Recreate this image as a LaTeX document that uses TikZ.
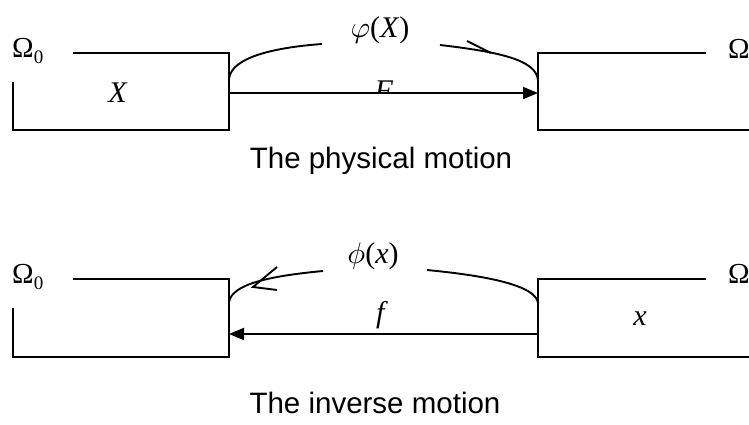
\documentclass[tikz,border=0pt]{standalone}
\usepackage{fontspec}
\setmainfont{Liberation Serif}
\newfontfamily\capfont{Liberation Sans}
\usetikzlibrary{arrows.meta}
\tikzset{
  ln/.style={line width=1.9pt},
  big/.style={font=\fontsize{30}{34}\selectfont, inner sep=0pt, anchor=base},
  captext/.style={font=\capfont\fontsize{29.5}{34}\selectfont, inner sep=0pt, anchor=base},
  tip/.style={-{Triangle[length=15pt,width=12pt]}},
  omega/.style={font=\fontsize{29}{32}\selectfont, inner sep=0pt, anchor=base west}
}
\newcommand\subzero{\raisebox{-6pt}{\fontsize{19}{19}\selectfont 0}}
\newcommand\bigmath[1]{\scalebox{3.0}{\fontsize{10}{12}\selectfont$#1$}}
\begin{document}
\begin{tikzpicture}[x=1pt,y=-1pt]
\useasboundingbox (0,0) rectangle (749,424);

% ---------- top: physical motion ----------
\node[omega] (O1) at (12,57) {Ω\subzero};
\node[omega] (O1r) at (728,58) {Ω};
\draw[ln] (73,53) -- (229,53) -- (229,130) -- (13,130) -- (13,82);
\draw[ln] (706,53) -- (538,53) -- (538,130) -- (749,130);
\coordinate (A1) at (229,93);
\coordinate (B1) at (538,93);
\draw[ln,tip] (A1) -- (B1);
\node[big] (X) at (118,102) {\textit{X}};
\begin{scope}
  \clip (360,60) rectangle (410,92);
  \node[big] (F) at (384,100) {\textit{F}};
\end{scope}
\node[big] (phiX) at (380,37) {\bigmath{\varphi}(\textit{X})};
\coordinate (a1s) at (229,79);
\coordinate (a1e) at (322,44);
\coordinate (a2s) at (440,45);
\coordinate (a2e) at (538,80);
\draw[ln] (a1s) .. controls (231,56) and (280,47) .. (a1e);
\draw[ln] (a2s) .. controls (500,52) and (536,60) .. (a2e);
\coordinate (h1) at (467,41);
\coordinate (h2) at (491,53);
\draw[ln] (h1) -- (h2);
\node[captext] (cap1) at (381,168) {The physical motion};

% ---------- bottom: inverse motion ----------
\node[omega] (O2) at (12,283) {Ω\subzero};
\node[omega] (O2r) at (728,283) {Ω};
\draw[ln] (73,279) -- (229,279) -- (229,357) -- (13,357) -- (13,308);
\draw[ln] (706,279) -- (538,279) -- (538,357) -- (749,357);
\coordinate (A2) at (538,334);
\coordinate (B2) at (229,334);
\draw[ln,tip] (A2) -- (B2);
\node[big] (xs) at (640,325) {\textit{x}};
\node[big] (f) at (382,322) {\textit{f}};
\node[big] (phix) at (373,263) {\bigmath{\phi}(\textit{x})};
\coordinate (b1s) at (229,302);
\coordinate (b1e) at (323,271);
\coordinate (b2s) at (427,270);
\coordinate (b2e) at (538,303);
\draw[ln] (b1s) .. controls (232,284) and (270,276) .. (b1e);
\draw[ln] (b2s) .. controls (490,276) and (536,286) .. (b2e);
\coordinate (v1) at (277,267);
\coordinate (v0) at (253,287);
\coordinate (v2) at (277,290);
\draw[ln] (v1) -- (v0) -- (v2);
\node[captext] (cap2) at (375,413) {The inverse motion};
\end{tikzpicture}
\end{document}
